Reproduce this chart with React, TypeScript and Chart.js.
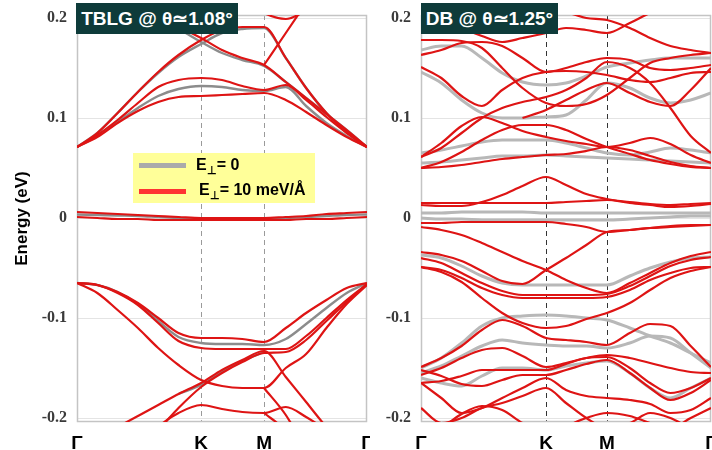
import React, { useEffect, useRef } from 'react';
import { Chart, registerables } from 'chart.js';
Chart.register(...registerables);

// ---------- axis data ----------
const kLabels = ['Γ', 'K', 'M', 'Γ'];
const yTickValues = [-0.2, -0.1, 0, 0.1, 0.2];
const yTickLabels = ['-0.2', '-0.1', '0', '0.1', '0.2'];

// ---------- TBLG panel (k-path fraction) ----------
const kGridTBLG = [0, 0.07, 0.14, 0.21, 0.28, 0.35, 0.428, 0.5, 0.57, 0.645, 0.72, 0.79, 0.86, 0.93, 1];
const kTicksTBLG = [0, 0.428, 0.645, 1];

// red: E_perp = 10 meV/Å
const tblgFlatA = [0.006, 0.005, 0.004, 0.003, 0.002, 0.001, 0.0, 0.0, 0.0, 0.0, 0.001, 0.002, 0.004, 0.005, 0.006];
const tblgFlatB = [0.001, 0.0, -0.001, -0.001, -0.002, -0.002, -0.002, -0.002, -0.002, -0.002, -0.002, -0.001, -0.001, 0.0, 0.001];
const tblgC1 = [0.071, 0.081, 0.095, 0.107, 0.116, 0.121, 0.122, 0.123, 0.124, 0.125, 0.118, 0.106, 0.093, 0.081, 0.071];
const tblgC2 = [0.071, 0.083, 0.098, 0.115, 0.131, 0.138, 0.14, 0.138, 0.132, 0.128, 0.133, 0.118, 0.101, 0.085, 0.071];
const tblgC3 = [0.071, 0.085, 0.105, 0.126, 0.146, 0.163, 0.178, 0.188, 0.191, 0.191, 0.16, 0.13, 0.105, 0.086, 0.071];
const tblgC4 = [0.24, 0.23, 0.22, 0.212, 0.199, 0.191, 0.18, 0.168, 0.16, 0.153, 0.136, 0.12, 0.104, 0.088, 0.071];
const tblgC5 = [null, null, null, null, null, null, null, null, null, 0.153, 0.185, 0.215, null, null, null];
const tblgC6 = [null, null, null, null, null, null, null, null, 0.22, 0.205, 0.199, 0.207, null, null, null];
const tblgV1 = [-0.065, -0.075, -0.092, -0.11, -0.13, -0.147, -0.162, -0.168, -0.17, -0.17, -0.15, -0.136, -0.11, -0.086, -0.067];
const tblgV2 = [-0.065, -0.067, -0.074, -0.085, -0.1, -0.115, -0.12, -0.12, -0.121, -0.124, -0.11, -0.095, -0.082, -0.07, -0.065];
const tblgV3 = [-0.065, -0.067, -0.075, -0.087, -0.105, -0.123, -0.13, -0.131, -0.131, -0.131, -0.131, -0.118, -0.1, -0.082, -0.066];
const tblgV4 = [null, null, -0.209, -0.198, -0.187, -0.176, -0.165, -0.152, -0.142, -0.133, -0.159, -0.184, -0.209, -0.23, null];
const tblgV5 = [null, null, null, -0.23, -0.212, -0.19, -0.169, -0.155, -0.144, -0.135, -0.134, -0.122, -0.103, -0.084, -0.066];
const tblgV6 = [null, null, null, null, null, null, null, null, null, -0.17, -0.197, -0.232, null, null, null];
const tblgV7 = [null, null, null, -0.232, -0.209, -0.195, -0.187, -0.191, -0.194, -0.195, -0.189, -0.199, -0.212, null, null];
const tblgV8 = [null, null, null, null, null, null, null, null, null, -0.195, -0.212, -0.232, null, null, null];
// gray: E_perp = 0
const tblgGFlat = [0.0035, 0.003, 0.0025, 0.002, 0.001, 0.0, -0.001, -0.001, -0.001, -0.001, 0.0, 0.001, 0.002, 0.003, 0.0035];
const tblgGC = [0.071, 0.082, 0.096, 0.11, 0.122, 0.129, 0.132, 0.131, 0.128, 0.127, 0.131, 0.112, 0.095, 0.082, 0.071];
const tblgGC3 = [0.071, 0.085, 0.105, 0.126, 0.145, 0.161, 0.174, 0.185, 0.189, 0.19, 0.16, 0.13, 0.105, 0.086, 0.071];
const tblgGC4 = [0.24, 0.23, 0.22, 0.212, 0.198, 0.189, 0.176, 0.165, 0.158, 0.152, 0.136, 0.12, 0.104, 0.088, 0.071];
const tblgGV = [-0.065, -0.067, -0.074, -0.086, -0.103, -0.119, -0.125, -0.126, -0.126, -0.127, -0.121, -0.106, -0.09, -0.075, -0.065];
const tblgGV4 = [null, null, null, null, null, -0.176, -0.167, -0.154, -0.143, -0.134, null, null, null, null, null];

// ---------- DB panel ----------
const kGridDB = [0, 0.07, 0.14, 0.21, 0.28, 0.35, 0.431, 0.5, 0.57, 0.641, 0.72, 0.79, 0.86, 0.93, 1];
const kTicksDB = [0, 0.431, 0.641, 1];

const dbT1 = [0.22, 0.215, 0.205, 0.195, 0.19, 0.195, 0.203, 0.205, 0.2, 0.198, 0.19, 0.18, 0.172, 0.168, 0.165];
const dbT2 = [0.205, 0.2, 0.19, 0.182, 0.176, 0.18, 0.185, 0.19, 0.188, 0.185, 0.195, 0.205, 0.212, 0.215, 0.215];
const dbH1 = [0.178, 0.178, 0.177, 0.17, 0.15, 0.13, 0.115, 0.112, 0.114, 0.123, 0.14, 0.155, 0.16, 0.163, 0.165];
const dbH2 = [0.163, 0.168, 0.175, 0.176, 0.172, 0.16, 0.146, 0.15, 0.156, 0.16, 0.158, 0.15, 0.148, 0.15, 0.153];
const dbH3 = [0.151, 0.14, 0.122, 0.112, 0.128, 0.14, 0.146, 0.147, 0.146, 0.143, 0.138, 0.136, 0.14, 0.145, 0.146];
const dbM1 = [0.061, 0.07, 0.085, 0.1, 0.11, 0.116, 0.121, 0.128, 0.14, 0.156, 0.15, 0.135, 0.11, 0.082, 0.065];
const dbM2 = [null, null, null, null, null, 0.1, 0.108, 0.118, 0.128, 0.135, 0.125, 0.116, 0.112, 0.128, 0.15];
const dbL1 = [0.05, 0.051, 0.053, 0.056, 0.059, 0.061, 0.063, 0.064, 0.067, 0.071, 0.068, 0.062, 0.056, 0.052, 0.05];
const dbL2 = [0.061, 0.075, 0.092, 0.101, 0.095, 0.087, 0.081, 0.077, 0.074, 0.071, 0.075, 0.08, 0.074, 0.063, 0.055];
const dbL3 = [0.05, 0.056, 0.066, 0.078, 0.088, 0.093, 0.093, 0.088, 0.079, 0.071, 0.064, 0.058, 0.054, 0.051, 0.05];
const dbZ1 = [0.015, 0.015, 0.015, 0.015, 0.015, 0.015, 0.015, 0.016, 0.017, 0.018, 0.016, 0.014, 0.013, 0.014, 0.015];
const dbZ2 = [0.013, 0.012, 0.012, 0.016, 0.023, 0.032, 0.041, 0.033, 0.024, 0.019, 0.015, 0.013, 0.011, 0.012, 0.014];
const dbZ3 = [-0.005, -0.005, -0.004, -0.004, -0.004, -0.004, -0.004, -0.006, -0.009, -0.014, -0.012, -0.01, -0.008, -0.007, -0.007];
const dbV1 = [-0.009, -0.012, -0.017, -0.025, -0.034, -0.043, -0.052, -0.062, -0.07, -0.075, -0.065, -0.055, -0.045, -0.038, -0.034];
const dbV2 = [-0.034, -0.037, -0.043, -0.053, -0.063, -0.066, -0.052, -0.04, -0.027, -0.014, -0.012, -0.01, -0.009, -0.008, -0.007];
const dbV3 = [-0.049, -0.054, -0.064, -0.08, -0.095, -0.105, -0.11, -0.108, -0.101, -0.095, -0.085, -0.072, -0.06, -0.053, -0.049];
const dbV4 = [-0.04, -0.045, -0.055, -0.065, -0.073, -0.077, -0.077, -0.077, -0.077, -0.076, -0.068, -0.058, -0.048, -0.042, -0.039];
const dbV5 = [-0.049, -0.052, -0.06, -0.07, -0.077, -0.08, -0.08, -0.08, -0.08, -0.079, -0.072, -0.062, -0.055, -0.05, -0.049];
const dbV6 = [-0.149, -0.14, -0.128, -0.112, -0.102, -0.108, -0.12, -0.122, -0.124, -0.127, -0.115, -0.106, -0.108, -0.128, -0.149];
const dbV7 = [-0.157, -0.15, -0.14, -0.132, -0.13, -0.138, -0.149, -0.145, -0.14, -0.137, -0.14, -0.145, -0.15, -0.154, -0.155];
const dbV8 = [-0.165, -0.163, -0.158, -0.152, -0.152, -0.152, -0.152, -0.146, -0.14, -0.139, -0.15, -0.165, -0.175, -0.17, -0.16];
const dbV9 = [-0.152, -0.158, -0.166, -0.168, -0.162, -0.157, -0.157, -0.152, -0.146, -0.142, -0.155, -0.17, -0.182, -0.175, -0.162];
const dbV10 = [-0.165, -0.18, -0.195, -0.19, -0.18, -0.17, -0.16, -0.172, -0.178, -0.18, -0.182, -0.186, -0.195, -0.192, -0.18];
const dbV11 = [-0.19, -0.205, -0.2, -0.19, -0.185, -0.178, -0.17, -0.185, -0.2, -0.21, -0.205, -0.195, -0.2, -0.21, -0.215];
const dbV12 = [-0.22, -0.21, -0.196, -0.188, -0.192, -0.205, -0.215, -0.208, -0.2, -0.195, -0.198, -0.205, -0.21, -0.2, -0.19];
const dbG1 = [0.168, 0.172, 0.172, 0.16, 0.145, 0.136, 0.133, 0.135, 0.142, 0.151, 0.155, 0.158, 0.16, 0.16, 0.16];
const dbG2 = [0.146, 0.135, 0.118, 0.105, 0.1, 0.1, 0.101, 0.103, 0.118, 0.135, 0.13, 0.12, 0.115, 0.118, 0.125];
const dbG3 = [0.065, 0.068, 0.072, 0.076, 0.078, 0.078, 0.078, 0.075, 0.07, 0.065, 0.063, 0.066, 0.07, 0.068, 0.065];
const dbG4 = [0.055, 0.056, 0.058, 0.06, 0.062, 0.062, 0.063, 0.062, 0.061, 0.06, 0.059, 0.058, 0.057, 0.056, 0.055];
const dbG5 = [0.005, 0.005, 0.006, 0.006, 0.006, 0.006, 0.005, 0.005, 0.005, 0.005, 0.005, 0.005, 0.005, 0.005, 0.005];
const dbG6 = [0.0, -0.001, -0.001, -0.002, -0.002, -0.002, -0.002, -0.002, -0.002, -0.002, -0.001, 0.0, 0.001, 0.002, 0.002];
const dbG7 = [-0.037, -0.04, -0.048, -0.058, -0.065, -0.067, -0.067, -0.067, -0.067, -0.067, -0.058, -0.05, -0.044, -0.04, -0.039];
const dbG8 = [-0.15, -0.14, -0.125, -0.108, -0.1, -0.098, -0.097, -0.098, -0.1, -0.102, -0.11, -0.118, -0.125, -0.135, -0.145];
const dbG9 = [-0.155, -0.148, -0.138, -0.128, -0.122, -0.125, -0.127, -0.128, -0.128, -0.13, -0.125, -0.118, -0.12, -0.135, -0.15];
const dbG10 = [-0.16, -0.165, -0.168, -0.158, -0.15, -0.15, -0.152, -0.148, -0.145, -0.143, -0.155, -0.17, -0.18, -0.17, -0.16];

const tblgRed = [tblgFlatA, tblgFlatB, tblgC1, tblgC2, tblgC3, tblgC4, tblgC5, tblgC6, tblgV1, tblgV2, tblgV3, tblgV4, tblgV5, tblgV6, tblgV7, tblgV8];
const tblgGray = [tblgGFlat, tblgGC, tblgGC3, tblgGC4, tblgGV, tblgGV4];
const dbRed = [dbT1, dbT2, dbH1, dbH2, dbH3, dbM1, dbM2, dbL1, dbL2, dbL3, dbZ1, dbZ2, dbZ3, dbV1, dbV2, dbV3, dbV4, dbV5, dbV6, dbV7, dbV8, dbV9, dbV10, dbV11, dbV12];
const dbGray = [dbG1, dbG2, dbG3, dbG4, dbG5, dbG6, dbG7, dbG8, dbG9, dbG10];

const RED = 'rgb(222,20,20)';

function makeChart(canvas: HTMLCanvasElement, cfg: any) {
  const { grid, ticks, red, gray, grayColor, grayWidth, dashColor, yWidth, rightPad, showTitle } = cfg;
  const toData = (band: (number | null)[]) => grid.map((x: number, i: number) => ({ x, y: band[i] }));
  // Chart.js paints the first dataset on top, so red goes first
  const datasets = [
    ...red.map((b: any) => ({ data: toData(b), borderColor: RED, borderWidth: 2.2, pointRadius: 0 })),
    ...gray.map((b: any) => ({ data: toData(b), borderColor: grayColor, borderWidth: grayWidth, pointRadius: 0 })),
  ];
  const framePlugin = {
    id: 'frame',
    beforeDatasetsDraw(chart: any) {
      const { ctx, chartArea, scales } = chart;
      const { left, right, top, bottom } = chartArea;
      ctx.save();
      ctx.lineWidth = 1;
      ctx.strokeStyle = dashColor;
      ctx.setLineDash([5, 4]);
      [ticks[1], ticks[2]].forEach((v: number) => {
        const px = Math.round(scales.x.getPixelForValue(v)) + 0.5;
        ctx.beginPath();
        ctx.moveTo(px, top);
        ctx.lineTo(px, bottom);
        ctx.stroke();
      });
      ctx.setLineDash([]);
      ctx.strokeStyle = '#c4c4c4';
      ctx.lineWidth = 1.5;
      ctx.strokeRect(left + 0.5, top + 0.5, right - left - 1, bottom - top - 1);
      ctx.restore();
    },
  };
  return new Chart(canvas, {
    type: 'line',
    data: { datasets },
    options: {
      responsive: false,
      maintainAspectRatio: false,
      animation: false,
      layout: { padding: { top: 15, right: rightPad, left: 0, bottom: 0 } },
      plugins: { legend: { display: false }, tooltip: { enabled: false } },
      elements: { line: { cubicInterpolationMode: 'monotone' }, point: { radius: 0 } },
      scales: {
        x: {
          type: 'linear',
          min: 0,
          max: 1,
          afterBuildTicks: (s: any) => { s.ticks = ticks.map((v: number) => ({ value: v })); },
          afterFit: (s: any) => { s.height = 28; s.paddingLeft = 0; s.paddingRight = 0; },
          ticks: {
            autoSkip: false,
            maxRotation: 0,
            padding: 2,
            color: '#000',
            font: { family: 'Liberation Sans', size: 19, weight: 'bold' },
            callback: (v: number) => kLabels[ticks.findIndex((t: number) => Math.abs(t - v) < 1e-6)],
          },
          grid: { display: false },
          border: { display: false },
        },
        y: {
          type: 'linear',
          min: -0.204,
          max: 0.203,
          afterBuildTicks: (s: any) => { s.ticks = yTickValues.map((v) => ({ value: v })); },
          afterFit: (s: any) => { s.width = yWidth; s.paddingTop = 0; s.paddingBottom = 0; },
          ticks: {
            padding: 10,
            color: '#3a3a3a',
            font: { family: 'Liberation Serif', size: 16, weight: 'bold' },
            callback: (v: number) => yTickLabels[yTickValues.findIndex((t) => Math.abs(t - v) < 1e-6)],
          },
          grid: { color: '#e4e4e4', drawTicks: false, lineWidth: 1 },
          border: { display: false },
          title: {
            display: showTitle,
            text: 'Energy (eV)',
            color: '#000',
            font: { family: 'Liberation Sans', size: 17, weight: 'bold' },
            padding: { top: 12, bottom: 0 },
          },
        },
      },
    },
    plugins: [framePlugin],
  } as any);
}

const titleBox: React.CSSProperties = {
  position: 'absolute',
  top: 3,
  height: 31,
  background: '#0e3b3a',
  color: '#fff',
  fontFamily: 'Liberation Sans, Arial, sans-serif',
  fontWeight: 'bold',
  fontSize: 19,
  lineHeight: '31px',
  textAlign: 'center',
  whiteSpace: 'nowrap',
};

const legendText: React.CSSProperties = {
  position: 'absolute',
  fontFamily: 'Liberation Sans, Arial, sans-serif',
  fontWeight: 'bold',
  fontSize: 16,
  color: '#000',
  whiteSpace: 'nowrap',
  lineHeight: '18px',
};

export default function App() {
  const leftRef = useRef<HTMLCanvasElement>(null);
  const rightRef = useRef<HTMLCanvasElement>(null);
  useEffect(() => {
    const c1 = makeChart(leftRef.current!, {
      grid: kGridTBLG, ticks: kTicksTBLG, red: tblgRed, gray: tblgGray,
      grayColor: '#8c8c8c', grayWidth: 2.4, dashColor: '#9a9a9a', yWidth: 77, rightPad: 3, showTitle: true,
    });
    const c2 = makeChart(rightRef.current!, {
      grid: kGridDB, ticks: kTicksDB, red: dbRed, gray: dbGray,
      grayColor: '#b8b8b8', grayWidth: 3, dashColor: '#333333', yWidth: 51, rightPad: 1, showTitle: false,
    });
    return () => { c1.destroy(); c2.destroy(); };
  }, []);
  return (
    <div style={{ position: 'fixed', left: 0, top: 0, width: 712, height: 450, background: '#fff', overflow: 'hidden' }}>
      <canvas ref={leftRef} width={370} height={450} style={{ position: 'absolute', left: 0, top: 0, width: 370, height: 450 }} />
      <canvas ref={rightRef} width={342} height={450} style={{ position: 'absolute', left: 370, top: 0, width: 342, height: 450 }} />
      <div style={{ ...titleBox, left: 76, width: 162 }}>TBLG @ θ≃1.08°</div>
      <div style={{ ...titleBox, left: 421, width: 137 }}>DB @ θ≃1.25°</div>
      <div style={{ position: 'absolute', left: 133, top: 153, width: 182, height: 50, background: '#ffff99' }}>
        <div style={{ position: 'absolute', left: 6, top: 10, width: 47, height: 5, background: '#aaaaaa' }} />
        <div style={{ position: 'absolute', left: 6, top: 36, width: 47, height: 5, background: '#ff3333' }} />
        <div style={{ ...legendText, left: 63, top: 3 }}>E<sub style={{ fontSize: 11 }}>⊥</sub>= 0</div>
        <div style={{ ...legendText, left: 66, top: 28 }}>E<sub style={{ fontSize: 11 }}>⊥</sub>= 10 meV/Å</div>
      </div>
    </div>
  );
}
